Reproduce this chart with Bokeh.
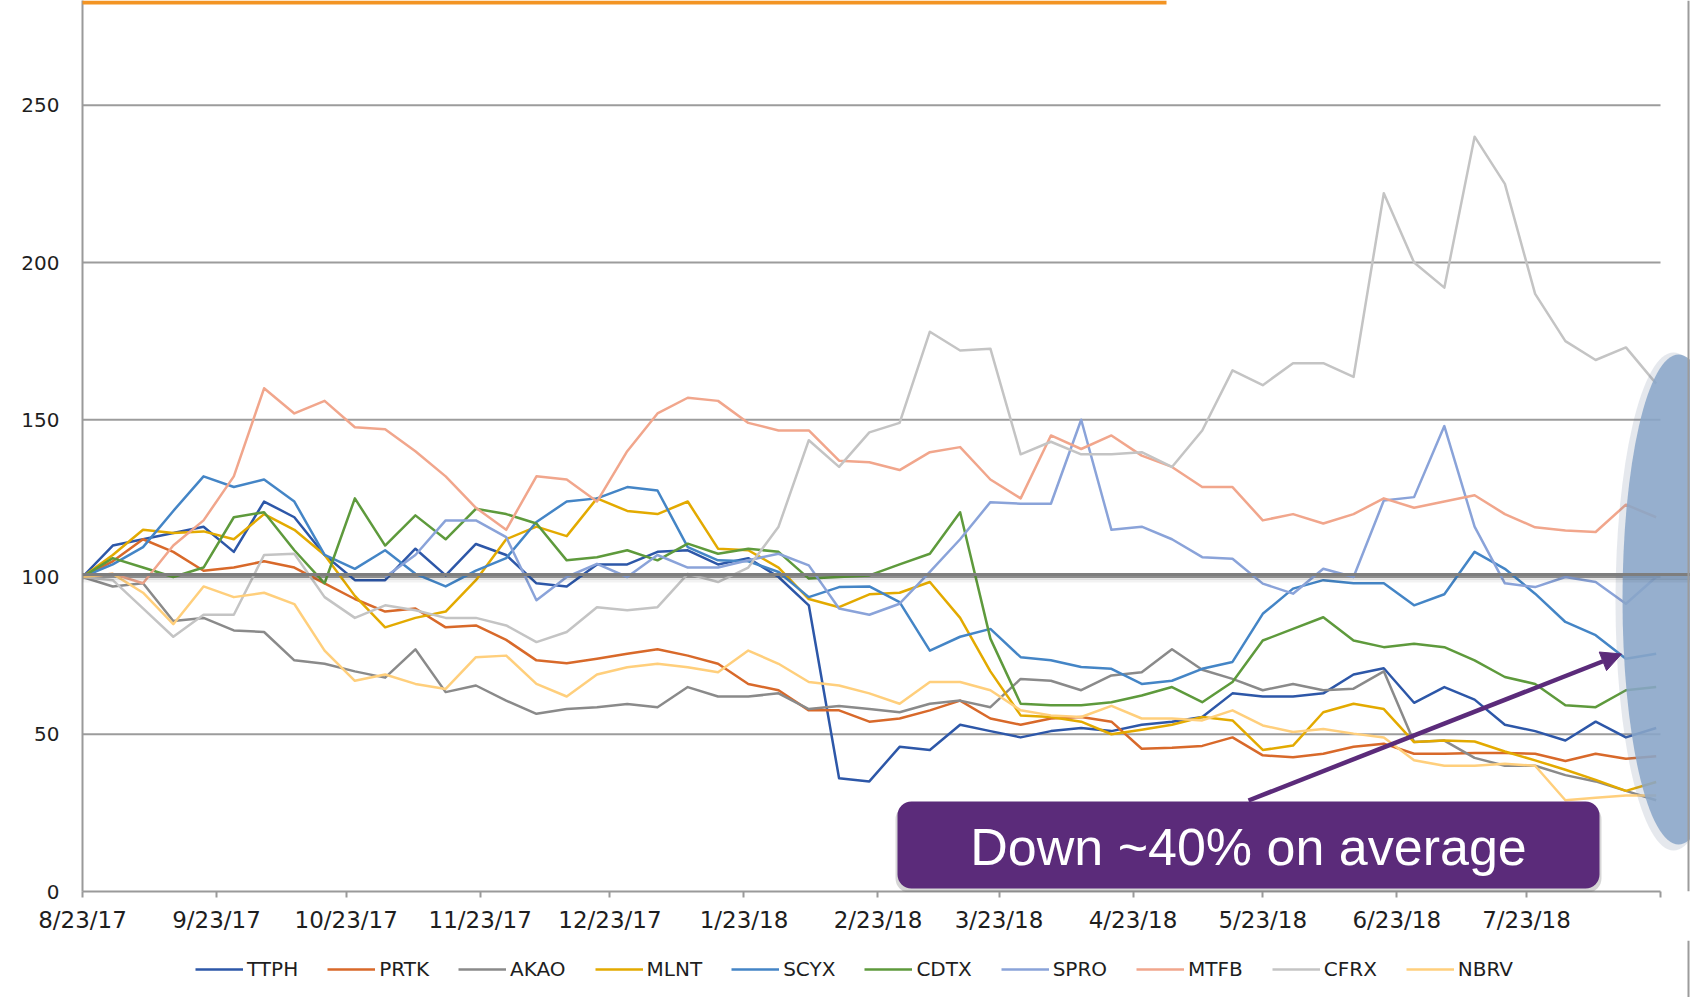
import numpy as np
import pandas as pd
from bokeh.plotting import figure
from bokeh.layouts import column
from bokeh.models import (Range1d, FixedTicker, Legend, LegendItem, Span, BoxAnnotation,
                          Label, Arrow, NormalHead)
from bokeh.embed import file_html
from bokeh.resources import INLINE

# ---------------- data ----------------
START = "2017-08-23"
dates = pd.date_range(START, periods=53, freq="7D")   # weekly observations

tick_dates = ["2017-08-23", "2017-09-23", "2017-10-23", "2017-11-23", "2017-12-23",
              "2018-01-23", "2018-02-23", "2018-03-23", "2018-04-23", "2018-05-23",
              "2018-06-23", "2018-07-23", "2018-08-23"]
tick_labels = ["8/23/17", "9/23/17", "10/23/17", "11/23/17", "12/23/17", "1/23/18",
               "2/23/18", "3/23/18", "4/23/18", "5/23/18", "6/23/18", "7/23/18", ""]
y_ticks = [0, 50, 100, 150, 200, 250]

names = ["TTPH", "PRTK", "AKAO", "MLNT", "SCYX", "CDTX", "SPRO", "MTFB", "CFRX", "NBRV"]
colors = ["#2D57A8", "#D8692A", "#8A8A8A", "#E3AA00", "#4485C6", "#5E9A3C",
          "#8AA3D9", "#F1A68C", "#C4C4C4", "#FFCF7C"]

TTPH = [100, 110, 112, 114, 116, 108, 124, 119, 107, 99,
        99, 109, 100.5, 110.5, 107, 98, 97, 104, 104,
        108, 108.5, 104, 106, 100, 91, 36, 35, 46,
        45, 53, 51, 49, 51, 52, 51, 53, 54,
        55.5, 63, 62, 62, 63, 69, 71, 60, 65,
        61, 53, 51, 48, 54, 49, 52]
PRTK = [100, 105, 112, 108, 102, 103, 105, 103, 98, 93,
        89, 90, 84, 84.6, 80, 73.5, 72.6, 74, 75.6,
        77, 75, 72.4, 66, 64, 57.6, 57.6, 54, 55,
        57.6, 60.7, 55, 53, 55, 55.5, 54, 45.4, 45.7,
        46.3, 49, 43.3, 42.7, 43.8, 46, 47, 43.8, 43.8,
        44, 44, 43.8, 41.5, 43.8, 42.2, 43]
AKAO = [100, 97, 98, 86, 87, 83, 82.5, 73.5, 72.4, 70,
        68, 77, 63.4, 65.5, 60.7, 56.5, 58, 58.6, 59.6,
        58.6, 65, 62, 62, 63, 58, 59, 58, 57,
        59.7, 60.7, 58.6, 67.6, 67, 64, 68.7, 69.7, 77,
        70.5, 67.6, 64, 66, 64, 64.5, 70, 47.5, 48,
        42.5, 40, 40, 37, 35, 32, 29]
MLNT = [100, 107, 115, 114, 114.5, 112, 120, 115, 107, 94,
        84, 87, 89, 99, 112, 116, 113, 125, 121,
        120, 124, 109, 108.5, 103, 93, 90.4, 94.5, 95,
        98.4, 87, 70, 56, 55.5, 54, 50, 51.4, 53,
        55.5, 54.4, 45, 46.4, 57, 59.7, 58, 47.5, 48,
        47.7, 44.5, 41.7, 38.7, 35.5, 32, 34.8]
SCYX = [100, 104, 109.5, 121, 132, 128.6, 131, 124, 107, 102.6,
        108.5, 101, 97, 102, 106, 117.5, 124, 125, 128.6,
        127.5, 109.5, 105.3, 105, 101.6, 93.6, 96.8, 97, 92,
        76.6, 81, 83.5, 74.5, 73.5, 71.4, 70.8, 66, 67,
        70.8, 73, 88.3, 96.3, 99, 98, 98, 91, 94.5,
        108, 102.6, 94.7, 85.7, 81.5, 74, 75.6]
CDTX = [100, 106, 103, 100, 103, 119, 120.6, 108.5, 98, 125,
        110, 119.6, 112, 121.7, 120, 117, 105.3, 106.3, 108.5,
        105.3, 110.6, 107.4, 109, 108, 99.5, 100, 100.5, 104,
        107.4, 120.6, 80.4, 59.7, 59.2, 59.2, 60.2, 62.3, 65,
        60.2, 66.6, 79.8, 83.5, 87.2, 79.8, 77.7, 78.8, 77.7,
        73.5, 68.2, 66, 59.2, 58.6, 64, 65]
SPRO = [None, None, None, None, None, None, None, None, None, None,
        100, 107, 118, 118, 112.7, 92.6, 100, 104.2, 100,
        107, 103, 103, 105.3, 107.4, 103.7, 90, 88, 91.5,
        101.6, 112, 123.8, 123.3, 123.3, 150, 115, 116, 112,
        106.3, 105.8, 97.9, 94.7, 102.6, 100, 124.3, 125.4, 148,
        116, 98, 96.8, 100, 98.4, 91.5, 100]
MTFB = [100, 101, 98, 110, 118, 132, 160, 152, 156, 147.6,
        147, 140, 132, 122, 115, 132, 131, 124, 140,
        152, 157, 156, 149, 146.6, 146.6, 137, 136.5, 134,
        139.7, 141.3, 131, 125, 145, 140.7, 145, 138.6, 135,
        128.6, 128.6, 118, 120, 117, 120, 125, 122, 124,
        126, 120, 115.8, 114.8, 114.3, 123, 119]
CFRX = [100, 99, 90, 81, 88, 88, 107, 107.4, 93.6, 87,
        91, 89.4, 87, 87, 84.6, 79.3, 82.5, 90.4, 89.4,
        90.4, 101, 98.4, 103, 116, 143.5, 135, 146, 149,
        178, 172, 172.6, 139, 143, 139, 139, 139.7, 135,
        146.6, 165.7, 161, 168, 168, 163.6, 222, 200, 192,
        240, 225, 190, 175, 169, 173, 161.5]
NBRV = [100, 101, 95, 85, 97, 93.6, 95, 91.4, 76.6, 67,
        69, 66, 64.4, 74.5, 75, 66, 62, 69, 71.3,
        72.4, 71.3, 69.7, 76.6, 72.4, 66.6, 65.5, 63, 59.7,
        66.6, 66.6, 64, 57.6, 56, 55.5, 59, 55, 55,
        54.4, 57.6, 52.8, 50.7, 51.7, 50.2, 49, 41.7, 40,
        40, 40.6, 40, 29, 29.8, 30.5, 30.5]

series = [TTPH, PRTK, AKAO, MLNT, SCYX, CDTX, SPRO, MTFB, CFRX, NBRV]
annotation_text = "Down ~40% on average"

# ---------------- layout constants (pixels on the page) ----------------
X0_PAGE, XEND_PAGE = 82, 1660          # 8/23/17 and 8/23/18
Y0_PAGE, PX_PER_UNIT = 891, 3.145
start = pd.Timestamp(START)
span_days = (pd.Timestamp("2018-08-23") - start).days
PX_PER_DAY = (XEND_PAGE - X0_PAGE) / span_days
FIG_W, FIG_H = 1690, 997
H1 = 940                                # main chart; the legend strip sits below it


def dx(page_x):
    return (page_x - X0_PAGE) / PX_PER_DAY


def dy(page_y):
    return (Y0_PAGE - page_y) / PX_PER_UNIT


x = (dates - start).days.values.astype(float)
tick_pos = [float((pd.Timestamp(d) - start).days) for d in tick_dates]

p = figure(width=FIG_W, height=H1, output_backend="svg", toolbar_location=None,
           title=None,
           x_range=Range1d(0, dx(FIG_W)), y_range=Range1d(0, dy(0)),
           min_border_left=X0_PAGE, min_border_right=0, min_border_top=0,
           min_border_bottom=H1 - Y0_PAGE, outline_line_color=None,
           background_fill_color="white", border_fill_color="white")
p.xgrid.visible = False
p.ygrid.visible = False

AX = "#9A9A9A"
LBL = "#1E1E1E"
LW = 2.5
# horizontal gridlines, limited to the date extent
gv = [v for v in y_ticks if v > 0]
p.segment(x0=[0] * len(gv), x1=[span_days] * len(gv), y0=gv, y1=gv,
          line_color="#9C9C9C", line_width=1.8)

renderers = []
for name, vals, col in zip(names, series, colors):
    y = np.array(vals, dtype=float)
    r = p.line(x, y, line_color=col, line_width=LW, line_join="round")
    renderers.append(r)

# highlight ellipse on the right
p.ellipse(x=[dx(1673)], y=[dy(601)], width=[116 / PX_PER_DAY], height=[498 / PX_PER_UNIT],
          fill_color="#6F7F99", fill_alpha=0.18, line_color=None)
p.ellipse(x=[dx(1678)], y=[dy(599)], width=[112 / PX_PER_DAY], height=[490 / PX_PER_UNIT],
          fill_color="#8AA6C9", fill_alpha=0.87, line_color=None)

# axes
xa = p.xaxis[0]
xa.ticker = FixedTicker(ticks=tick_pos)
xa.major_label_overrides = {t: l for t, l in zip(tick_pos, tick_labels)}
xa.bounds = (0, span_days)
xa.axis_line_color = AX
xa.axis_line_width = 2
xa.major_tick_line_color = AX
xa.major_tick_line_width = 2
xa.major_tick_out = 6
xa.major_tick_in = 0
xa.minor_tick_out = 0
xa.minor_tick_in = 0
xa.major_label_standoff = 9
xa.major_label_text_font = "DejaVu Sans"
xa.major_label_text_font_size = "23px"
xa.major_label_text_color = LBL

ya = p.yaxis[0]
ya.ticker = FixedTicker(ticks=y_ticks)
ya.axis_line_color = AX
ya.axis_line_width = 2
ya.major_tick_out = 0
ya.major_tick_in = 0
ya.minor_tick_out = 0
ya.minor_tick_in = 0
ya.major_label_standoff = 23
ya.major_label_text_font = "DejaVu Sans"
ya.major_label_text_font_size = "20px"
ya.major_label_text_color = LBL

# thick reference line at 100 with shadow
p.add_layout(Span(location=dy(577.5), dimension="width", line_color="#000000",
                  line_alpha=0.10, line_width=4))
p.add_layout(Span(location=dy(580.5), dimension="width", line_color="#000000",
                  line_alpha=0.05, line_width=3))
p.add_layout(Span(location=dy(574), dimension="width", line_color="#7E7E7E",
                  line_width=3))
# slide border on the right
p.add_layout(Span(location=dx(1688), dimension="height", line_color="#9C9C9C",
                  line_width=2))

# orange strip at the top of the slide
p.add_layout(BoxAnnotation(left=dx(0), right=dx(1166), top=dy(0), bottom=dy(4),
                           fill_color="#F39423", fill_alpha=1, line_color=None))

PURPLE = "#5B2B7A"
# arrow
p.add_layout(Arrow(end=NormalHead(size=20, fill_color=PURPLE, line_color=PURPLE, line_width=1),
                   x_start=dx(1248), y_start=dy(800), x_end=dx(1621), y_end=dy(653.5),
                   line_color=PURPLE, line_width=4.5))

# callout box with shadow
p.add_layout(BoxAnnotation(left=dx(895), right=dx(1601), top=dy(805), bottom=dy(892),
                           fill_color="#000000", fill_alpha=0.16, line_color=None,
                           border_radius=14))
p.add_layout(BoxAnnotation(left=dx(897), right=dx(1599), top=dy(801), bottom=dy(888),
                           fill_color=PURPLE, fill_alpha=1, line_color=None,
                           border_radius=14))
p.add_layout(Label(x=dx(1248), y=dy(846), text=annotation_text, text_align="center",
                   text_baseline="middle", text_font="Liberation Sans",
                   text_font_size="52px", text_color="white"))

# ---------------- legend strip (second figure, page pixel coordinates) ----------------
# the column layout aligns this figure's frame with the chart frame (page x 82 .. 1690)
p2 = figure(width=FIG_W, height=FIG_H - H1, output_backend="svg", toolbar_location=None,
            title=None, x_range=Range1d(X0_PAGE, FIG_W), y_range=Range1d(FIG_H, H1),
            x_axis_type=None, y_axis_type=None, min_border=0, min_border_left=X0_PAGE,
            min_border_right=0, min_border_top=0, min_border_bottom=0,
            outline_line_color=None, background_fill_color="white",
            border_fill_color="white")
p2.segment(x0=[1688], x1=[1688], y0=[H1], y1=[FIG_H], line_color="#9C9C9C", line_width=2)
keys = [p2.line([np.nan], [np.nan], line_color=c, line_width=LW) for c in colors]
items = [LegendItem(label=n, renderers=[r]) for n, r in zip(names, keys)]
legend = Legend(items=items, orientation="horizontal", location=(195 - X0_PAGE, 16),
                glyph_width=48, glyph_height=20, label_standoff=4, spacing=29,
                padding=0, margin=0, border_line_color=None, background_fill_alpha=0,
                label_text_font="DejaVu Sans", label_text_font_size="20px",
                label_text_color=LBL, label_height=20)
p2.add_layout(legend)

open("out.html", "w").write(file_html(column(p, p2, spacing=0), INLINE))
